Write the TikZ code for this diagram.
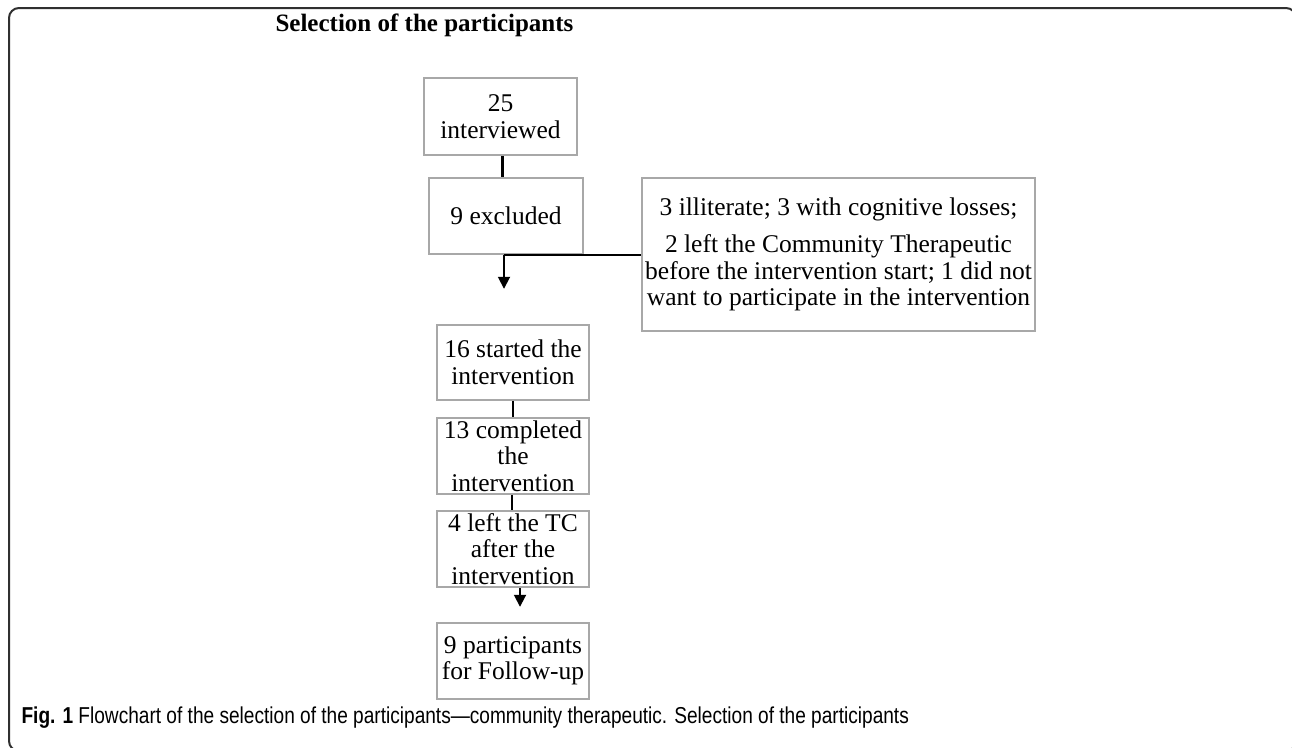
\documentclass[tikz,border=0pt]{standalone}
\usepackage{fontspec}
\setmainfont{Liberation Serif}
\newfontfamily\capfont[FakeStretch=0.83]{Liberation Sans}
\usetikzlibrary{arrows.meta}
\definecolor{boxgray}{HTML}{A8A8A8}
\definecolor{framegray}{HTML}{303030}
\tikzset{
  box/.style={draw=boxgray, line width=1.6pt, inner sep=0pt, align=center,
    font=\fontsize{25.5}{26.5}\selectfont},
  conn/.style={draw=black, line width=1.8pt},
  thickconn/.style={draw=black, line width=3pt},
  arr/.style={conn, -{Triangle[length=12pt,width=12pt]}},
}
\begin{document}
\begin{tikzpicture}[x=1pt,y=-1pt]
\useasboundingbox (0,0) rectangle (1292,747);
\draw[framegray, line width=2pt, rounded corners=10pt] (9,8) rectangle (1296,751);
\node[font=\fontsize{25}{28}\selectfont\bfseries, anchor=west] (title) at (272,25) {Selection of the participants};
\node[box, minimum width=153pt, minimum height=77pt] (b1) at (500.5,116.5) {25\\interviewed};
\node[box, minimum width=154pt, minimum height=76pt] (b2) at (506,216) {9 excluded};
\node[box, minimum width=393pt, minimum height=153pt] (b3) at (838.5,254.5)
  {3 illiterate; 3 with cognitive losses;\\[11pt]2 left the Community Therapeutic\\before the intervention start; 1 did not\\want to participate in the intervention};
\node[box, minimum width=152pt, minimum height=75pt] (b4) at (513,362.5) {16 started the\\intervention};
\node[box, minimum width=152pt, minimum height=76pt] (b5) at (513,456) {13 completed\\the\\intervention};
\node[box, minimum width=152pt, minimum height=76pt] (b6) at (513,549) {4 left the TC\\after the\\intervention};
\node[box, minimum width=152pt, minimum height=76pt] (b7) at (513,661) {9 participants\\for Follow-up};
\draw[thickconn] ([xshift=1.5pt]b1.south) -- ([xshift=1.5pt]b1.south |- b2.north);
\coordinate (split) at ([xshift=-2pt]b2.south);
\coordinate (a1) at ([yshift=-34pt]split);
\draw[conn] (split) -- (split -| b3.west);
\draw[arr] (split) -- (a1);
\draw[conn] (b4.south) -- (b5.north);
\draw[conn] ([xshift=-1pt]b5.south) -- ([xshift=-1pt]b5.south |- b6.north);
\coordinate (a2) at ([xshift=7pt,yshift=-19pt]b6.south);
\draw[arr] ([xshift=7pt]b6.south) -- (a2);
\node[anchor=west, font=\capfont\fontsize{23}{26}\selectfont] (cap) at (18,718)
  {\textbf{Fig. 1} Flowchart of the selection of the participants—community therapeutic. Selection of the participants};
\end{tikzpicture}
\end{document}
